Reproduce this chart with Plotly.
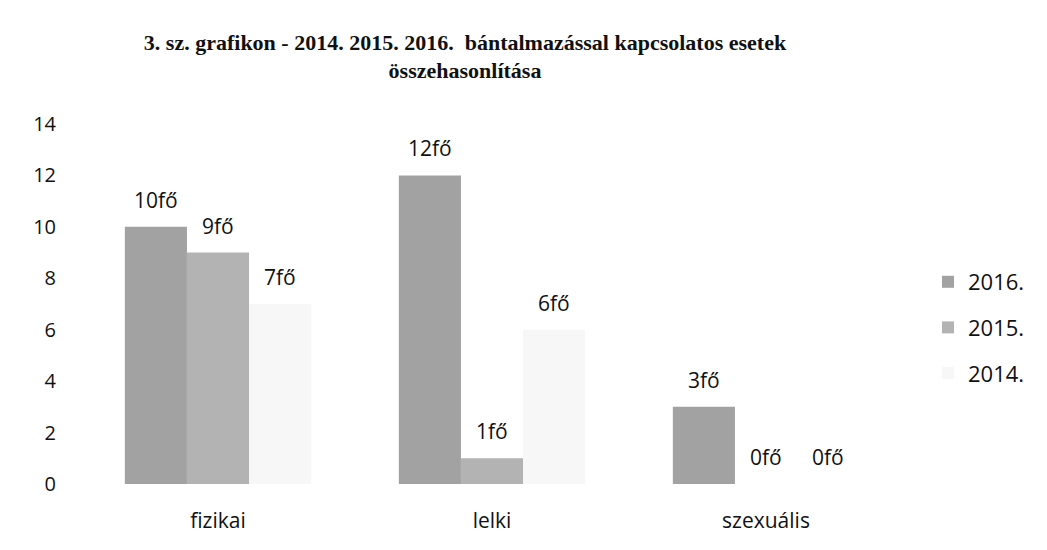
import plotly.graph_objects as go

categories = ["fizikai", "lelki", "szexuális"]
years = ["2016.", "2015.", "2014."]
values_2016 = [10, 12, 3]
values_2015 = [9, 1, 0]
values_2014 = [7, 6, 0]
series = [values_2016, values_2015, values_2014]
colors = ["#a2a2a2", "#b3b3b3", "#f7f7f7"]
y_ticks = [0, 2, 4, 6, 8, 10, 12, 14]
title_text = ("3. sz. grafikon - 2014. 2015. 2016.  bántalmazással kapcsolatos esetek"
              "<br>összehasonlítása")

W, H = 1047, 550
ML, MR, MT, MB = 73, 152, 116, 74
BARGAP = 0.32
FONT = "Open Sans"

fig = go.Figure()
for i, (name, vals) in enumerate(zip(years, series)):
    fig.add_trace(go.Bar(
        x=categories, y=vals, name=name,
        marker=dict(color=colors[i], line=dict(width=0)),
        legendgroup=name,
    ))

# value labels above bars ("Nfő")
plot_w = W - ML - MR
bar_w = plot_w / len(categories) * (1 - BARGAP) / len(series)
for i, vals in enumerate(series):
    for cat, v in zip(categories, vals):
        fig.add_annotation(
            x=cat, y=v, xref="x", yref="y", text=f"{v}fő", showarrow=False,
            xshift=(i - (len(series) - 1) / 2) * bar_w, yshift=27,
            yanchor="middle", xanchor="center",
            font=dict(family=FONT, size=21, color="#111111"),
        )

fig.update_layout(
    width=W, height=H,
    paper_bgcolor="white", plot_bgcolor="white",
    margin=dict(l=ML, r=MR, t=MT, b=MB, autoexpand=False),
    barmode="group", bargap=BARGAP, bargroupgap=0,
    title=dict(text=title_text, x=457/W, xanchor="center", y=0.924, yanchor="top",
               font=dict(family="Liberation Serif", size=22, color="#111111", weight="bold")),
    font=dict(family=FONT, size=21, color="#111111"),
    showlegend=True,
    legend=dict(xref="container", yref="container", x=920/W, xanchor="left",
                y=1 - 253/H, yanchor="top", tracegroupgap=14,
                font=dict(family=FONT, size=22, color="#111111"),
                bgcolor="rgba(0,0,0,0)"),
)
fig.update_yaxes(range=[0, 14], tickvals=y_ticks, showgrid=False, zeroline=False,
                 showline=False, ticks="", ticklabelstandoff=24,
                 tickfont=dict(family=FONT, size=20))
fig.update_xaxes(showgrid=False, showline=False, ticks="", ticklabelstandoff=22,
                 tickfont=dict(family=FONT, size=21))

fig.write_html("out.html")
